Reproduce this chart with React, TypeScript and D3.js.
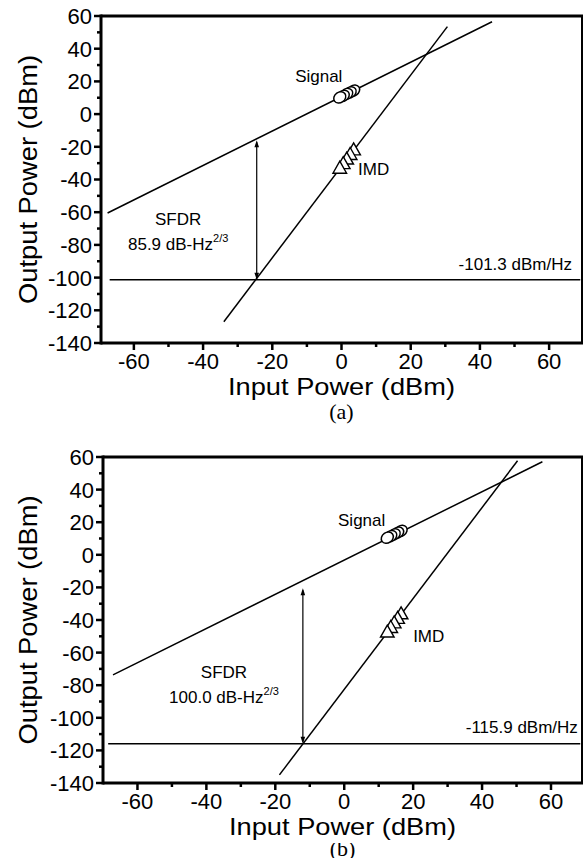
import React from 'react'
import * as d3 from 'd3'

const W = 584
const H = 858

const xTicks = [-60, -40, -20, 0, 20, 40, 60]
const xMinor = [-50, -30, -10, 10, 30, 50]
const yTicks = [60, 40, 20, 0, -20, -40, -60, -80, -100, -120, -140]
const yMinor = [50, 30, 10, -10, -30, -50, -70, -90, -110, -130]

// panel (a)
const signalFitA = [[-67.6, -60.5], [43.5, 56.5]]
const imdFitA = [[-34, -127], [30.6, 53.5]]
const inputA = [-0.5, 0.5, 1.5, 2.5, 3.5]
const signalA = [10.2, 11.2, 12.3, 13.3, 14.4]
const imdA = [-33.4, -30.6, -27.8, -25.0, -22.2]
const noiseA = -101.3
const noiseSpanA = [-67, 69]
const arrowA = { x: -24.5, from: -101.3, to: -16 }
const sfdrA = '85.9'

// panel (b)
const signalFitB = [[-67.1, -73.7], [57.5, 57.1]]
const imdFitB = [[-18.8, -135], [50.3, 57.7]]
const inputB = [12.5, 13.5, 14.5, 15.5, 16.5]
const signalB = [10.5, 11.5, 12.6, 13.6, 14.7]
const imdB = [-47.7, -44.9, -42.1, -39.3, -36.5]
const noiseB = -115.9
const noiseSpanB = [-68.5, 68.5]
const arrowB = { x: -12, from: -115.9, to: -20.5 }
const sfdrB = '100.0'

const FONT = '"Liberation Sans", Arial, sans-serif'

type PanelProps = {
  box: { left: number; right: number; top: number; bottom: number }
  xDomain: [number, number]
  signalFit: number[][]
  imdFit: number[][]
  input: number[]
  signal: number[]
  imd: number[]
  noise: number
  noiseSpan: number[]
  arrow: { x: number; from: number; to: number }
  sfdr: string
  labels: { signal: number[]; imd: number[]; sfdr: number[]; noise: number[] }
  tag: string
  tagY: number
  tagMask?: boolean
}

function Arrow({ x, y1, y2 }: { x: number; y1: number; y2: number }) {
  const hl = 7, hw = 2.3
  return (
    <g>
      <line x1={x} x2={x} y1={y1 - 2} y2={y2 + 2} stroke='#000' strokeWidth={1.2} />
      <path d={`M${x},${y1} L${x - hw},${y1 - hl} L${x + hw},${y1 - hl} Z`} fill='#000' />
      <path d={`M${x},${y2} L${x - hw},${y2 + hl} L${x + hw},${y2 + hl} Z`} fill='#000' />
    </g>
  )
}

function Panel(p: PanelProps) {
  const { box } = p
  const x = d3.scaleLinear().domain(p.xDomain).range([box.left, box.right])
  const y = d3.scaleLinear().domain([-140, 60]).range([box.bottom, box.top])
  const line = d3.line<number[]>().x(d => x(d[0])).y(d => y(d[1]))
  const cx = (box.left + box.right) / 2
  const cy = (box.top + box.bottom) / 2
  const tri = 'M0,-7.5 L6.8,4.5 L-6.8,4.5 Z'
  const idx = d3.range(p.input.length).reverse()

  return (
    <g fontFamily={FONT}>
      {/* fitted lines */}
      <path d={line(p.signalFit) || ''} fill='none' stroke='#000' strokeWidth={1.5} />
      <path d={line(p.imdFit) || ''} fill='none' stroke='#000' strokeWidth={1.5} />
      <line x1={x(p.noiseSpan[0])} x2={x(p.noiseSpan[1])} y1={y(p.noise)} y2={y(p.noise)}
        stroke='#000' strokeWidth={1.5} />
      <Arrow x={x(p.arrow.x)} y1={y(p.arrow.from)} y2={y(p.arrow.to)} />

      {/* measured points, first one drawn on top */}
      {idx.map(i => (
        <ellipse key={`s${i}`} cx={0} cy={0} rx={6.4} ry={5.2}
          transform={`translate(${x(p.input[i])},${y(p.signal[i])}) rotate(-35)`}
          fill='#fff' stroke='#000' strokeWidth={1.5} />
      ))}
      {idx.map(i => (
        <path key={`t${i}`} d={tri} transform={`translate(${x(p.input[i])},${y(p.imd[i])})`}
          fill='#fff' stroke='#000' strokeWidth={1.4} />
      ))}

      {/* annotations */}
      <text x={x(p.labels.signal[0])} y={y(p.labels.signal[1])} fontSize={17}>Signal</text>
      <text x={x(p.labels.imd[0])} y={y(p.labels.imd[1])} fontSize={17}>IMD</text>
      <text x={x(p.labels.sfdr[0])} y={y(p.labels.sfdr[1])} fontSize={17} textAnchor='middle'>SFDR</text>
      <text x={x(p.labels.sfdr[0])} y={y(p.labels.sfdr[1]) + 25} fontSize={17} textAnchor='middle'>
        {p.sfdr} dB-Hz<tspan fontSize={11} dy={-8}>2/3</tspan>
      </text>
      <text x={x(p.labels.noise[0])} y={y(p.labels.noise[1])} fontSize={17} textAnchor='end'>
        {p.noise.toFixed(1)} dBm/Hz
      </text>

      {/* frame */}
      <line x1={box.right} x2={box.right} y1={box.top} y2={box.bottom} stroke='#000' strokeWidth={2} />
      <line x1={box.left} x2={box.right + 1} y1={box.top} y2={box.top} stroke='#000' strokeWidth={3} />
      <line x1={box.left} x2={box.right + 1} y1={box.bottom} y2={box.bottom} stroke='#000' strokeWidth={3} />
      <line x1={box.left} x2={box.left} y1={box.top - 1.5} y2={box.bottom + 1.5} stroke='#000' strokeWidth={3} />

      {/* ticks */}
      {yTicks.map(t => (
        <g key={`yt${t}`}>
          <line x1={box.left - 7} x2={box.left} y1={y(t)} y2={y(t)} stroke='#000' strokeWidth={2.5} />
          <text x={box.left - 9} y={y(t)} dy='0.36em' textAnchor='end' fontSize={22}>{t}</text>
        </g>
      ))}
      {yMinor.map(t => (
        <line key={`ym${t}`} x1={box.left - 4} x2={box.left} y1={y(t)} y2={y(t)} stroke='#000' strokeWidth={2.5} />
      ))}
      {xTicks.map(t => (
        <g key={`xt${t}`}>
          <line x1={x(t)} x2={x(t)} y1={box.bottom} y2={box.bottom + 7} stroke='#000' strokeWidth={2.5} />
          <text x={x(t)} y={box.bottom + 26} textAnchor='middle' fontSize={22}>{t}</text>
        </g>
      ))}
      {xMinor.map(t => (
        <line key={`xm${t}`} x1={x(t)} x2={x(t)} y1={box.bottom} y2={box.bottom + 4} stroke='#000' strokeWidth={2.5} />
      ))}

      {/* axis titles */}
      <text transform={`translate(28,${cy}) rotate(-90)`} textAnchor='middle' dy='0.35em'
        fontSize={26} textLength={249} lengthAdjust='spacingAndGlyphs'>Output Power (dBm)</text>
      <text x={cx} y={p.tagY} textAnchor='middle' fontSize={22}
        fontFamily='"Liberation Serif", "Times New Roman", serif'>{p.tag}</text>
      {p.tagMask && <rect x={cx - 40} y={box.bottom + 40} width={80} height={20} fill='#fff' />}
      <text x={cx} y={box.bottom + 52} textAnchor='middle' fontSize={24}
        textLength={227} lengthAdjust='spacingAndGlyphs'>Input Power (dBm)</text>
    </g>
  )
}

export default function App() {
  return (
    <div style={{ position: 'absolute', left: 0, top: 0 }}>
      <svg width={W} height={H} style={{ display: 'block', background: '#fff' }}>
        <rect width={W} height={H} fill='#fff' />
        <Panel
          box={{ left: 101, right: 582, top: 16, bottom: 343 }}
          xDomain={[-69.5, 69.5]}
          signalFit={signalFitA} imdFit={imdFitA}
          input={inputA} signal={signalA} imd={imdA}
          noise={noiseA} noiseSpan={noiseSpanA} arrow={arrowA} sfdr={sfdrA}
          labels={{ signal: [-13.4, 19.6], imd: [4.8, -37.2], sfdr: [-47.2, -67.8], noise: [66.6, -95.3] }}
          tag='(a)' tagY={419}
        />
        <Panel
          box={{ left: 103, right: 582, top: 457, bottom: 783 }}
          xDomain={[-70, 69]}
          signalFit={signalFitB} imdFit={imdFitB}
          input={inputB} signal={signalB} imd={imdB}
          noise={noiseB} noiseSpan={noiseSpanB} arrow={arrowB} sfdr={sfdrB}
          labels={{ signal: [-1.8, 17.7], imd: [20.0, -53.5], sfdr: [-34.9, -75.6], noise: [67.8, -109.3] }}
          tag='(b)' tagY={856} tagMask
        />
      </svg>
    </div>
  )
}
